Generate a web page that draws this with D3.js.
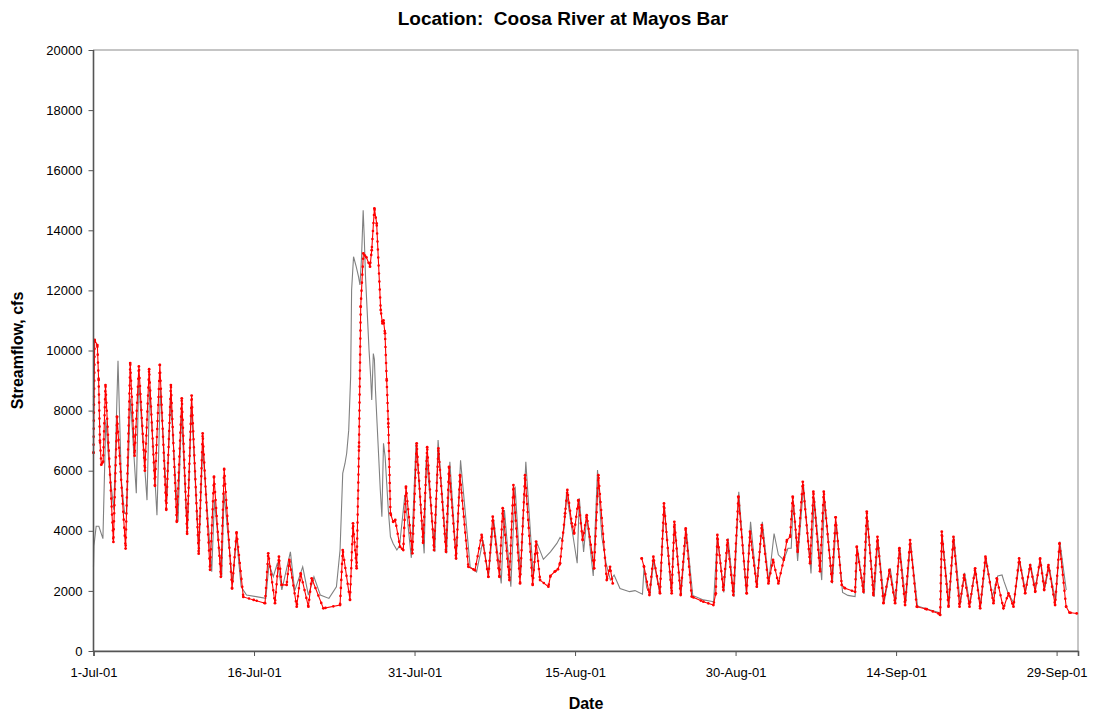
<!DOCTYPE html>
<html>
<head>
<meta charset="utf-8">
<script src="https://cdn.jsdelivr.net/npm/d3@7"></script>
<style>
  body { margin: 0; background: #fff; }
  text { font-family: Arial, "Liberation Sans", sans-serif; }
</style>
</head>
<body>
<script>
// days since 1-Jul-01, streamflow in cfs
const observed = [
  [0, 2800], [0.04, 3500], [0.25, 4150], [0.5, 4150], [0.88, 3740], [1.15, 7700], [1.5, 6000], [1.9, 4700],
  [2.29, 9660], [2.6, 5700], [2.9, 4580], [3.1, 4600], [3.45, 8400], [4.0, 5250], [4.22, 9020], [5.0, 5020],
  [5.25, 8800], [5.93, 4520], [6.25, 8700], [6.85, 5020], [7.2, 8450], [7.9, 4300], [8.22, 7950], [8.77, 3910],
  [9.15, 8240], [9.85, 3250], [10.2, 6800], [11.05, 2640], [11.3, 5020], [11.98, 2470], [12.2, 5250], [13.0, 2250],
  [13.35, 3800], [13.8, 2140], [14.3, 1860], [15.2, 1810], [16.1, 1750], [16.4, 2900], [16.8, 2470], [17.2, 2940],
  [17.6, 2030], [18.4, 3300], [18.8, 2000], [19.55, 2800], [20.08, 1860], [20.6, 2470], [21.2, 1860], [22.0, 1750],
  [22.7, 2140], [23.04, 3360], [23.29, 5910], [23.5, 6240], [23.66, 6580], [23.85, 7350], [24.03, 9130], [24.12, 12010],
  [24.3, 13120], [24.55, 12790], [24.77, 12450], [24.9, 12180], [25.05, 13120], [25.2, 14670], [25.3, 13780], [25.42, 12450],
  [25.6, 11120], [25.75, 10010], [25.9, 9130], [26.0, 8350], [26.15, 9900], [26.25, 9700], [26.35, 8680], [26.5, 7570],
  [26.65, 6470], [26.8, 5360], [26.95, 4470], [27.1, 6910], [27.25, 6470], [27.4, 5580], [27.55, 4690], [27.75, 3800],
  [28.0, 3580], [28.35, 3360], [28.6, 3500], [29.1, 5200], [29.7, 3100], [30.14, 6910], [30.9, 3250], [31.1, 6500],
  [31.9, 3300], [32.2, 7020], [33.0, 3250], [33.3, 6300], [33.9, 3030], [34.3, 6350], [35.2, 2800], [35.8, 2630],
  [36.4, 3690], [36.9, 2470], [37.4, 4360], [38.1, 2250], [38.4, 4690], [39.0, 2140], [39.4, 5470], [39.9, 2470],
  [40.4, 6300], [41.1, 2470], [41.4, 3640], [42.04, 3050], [42.7, 3300], [43.3, 3580], [43.6, 3780], [43.8, 3700],
  [44.0, 4140], [44.2, 5250], [45.2, 2920], [45.4, 5080], [45.8, 3300], [46.1, 4470], [46.7, 2500], [47.1, 6020],
  [47.5, 3800], [47.9, 2920], [48.3, 2360], [48.65, 2530], [49.2, 2080], [50.1, 1975], [50.6, 2010], [51.3, 1890],
  [51.45, 2800], [51.7, 2100], [52.0, 1900], [52.35, 3000], [52.9, 1950], [53.35, 4800], [54.0, 1950], [54.3, 4250],
  [54.9, 1900], [55.4, 4000], [56.0, 1850], [57.0, 1700], [57.95, 1640], [58.3, 3800], [58.9, 1950], [59.3, 3750],
  [59.85, 1800], [60.3, 5300], [61.0, 1950], [61.4, 4300], [62.0, 2100], [62.5, 4300], [63.1, 2300], [63.6, 3910],
  [64.0, 3200], [64.5, 3030], [64.9, 3420], [65.2, 3420], [65.4, 5000], [65.8, 3000], [66.35, 5500], [67.05, 2580],
  [67.35, 5100], [68.05, 2360], [68.3, 5100], [69.05, 2250], [69.4, 4300], [70.0, 1950], [70.5, 1850], [71.17, 1810],
  [71.4, 3400], [72.0, 1900], [72.3, 4500], [72.95, 1800], [73.3, 3700], [73.9, 1650], [74.45, 2750], [74.95, 1600],
  [75.35, 3450], [75.9, 1600], [76.35, 3600], [77.0, 1500], [77.9, 1400], [79.0, 1280], [79.15, 1250], [79.3, 3900],
  [79.95, 1550], [80.4, 3800], [81.0, 1550], [81.4, 2600], [81.9, 1550], [82.4, 2750], [82.9, 1500], [83.4, 3100],
  [84.0, 1800], [84.5, 2500], [84.9, 2530], [85.1, 2300], [85.5, 1900], [86.0, 1600], [86.55, 3000], [87.1, 2000],
  [87.55, 2900], [88.0, 2100], [88.5, 3000], [88.9, 2100], [89.3, 2800], [89.9, 1650], [90.3, 3640], [90.9, 2030]
]

// null marks the gap in the simulated record
const simulated = [
  [0, 6600], [0.11, 10350], [0.36, 10180], [0.48, 9020], [0.6, 7000], [0.73, 6200], [0.9, 6300], [1.12, 8850],
  [1.86, 3630], [2.2, 7800], [3.0, 3410], [3.43, 9580], [3.84, 6500], [4.24, 9470], [4.8, 6000], [5.2, 9380],
  [5.74, 5500], [6.2, 9520], [6.8, 4700], [7.23, 8850], [7.78, 4300], [8.25, 8410], [8.75, 3900], [9.17, 8500],
  [9.83, 3240], [10.2, 7240], [10.89, 2700], [11.26, 5800], [11.9, 2470], [12.21, 6060], [12.95, 2080], [13.37, 3950],
  [14.0, 1800], [14.97, 1700], [16.03, 1590], [16.33, 3250], [16.96, 1590], [17.33, 3140], [17.59, 2200], [18.05, 2200],
  [18.3, 3030], [18.99, 1475], [19.36, 2580], [20.08, 1475], [20.39, 2420], [21.48, 1420], [23.04, 1530], [23.29, 3360],
  [23.97, 1700], [24.25, 4250], [24.59, 2750], [24.81, 6800], [24.97, 11460], [25.22, 13230], [25.5, 13100], [25.84, 12790],
  [26.0, 13340], [26.25, 14730], [26.46, 14230], [26.84, 11350], [27.0, 10900], [27.1, 11000], [27.24, 10570], [27.4, 9000],
  [27.55, 7570], [27.75, 4580], [28.0, 4300], [28.2, 4360], [28.64, 3470], [28.95, 3360], [29.2, 5470], [29.8, 3250],
  [30.2, 6910], [30.8, 3600], [31.18, 6780], [31.82, 3360], [32.23, 6740], [32.94, 3300], [33.22, 6130], [33.88, 3080],
  [34.25, 5850], [35.03, 2800], [35.65, 2690], [36.27, 3860], [36.9, 2470], [37.31, 4470], [37.93, 2470], [38.24, 4750],
  [38.86, 2360], [39.24, 5520], [39.86, 2250], [40.33, 5850], [41.04, 2200], [41.36, 3640], [41.73, 2360], [42.51, 2140],
  [42.7, 2500], [43.1, 2640], [43.4, 2720], [43.6, 2920], [44.07, 4580], [44.28, 5360], [44.69, 4250], [44.91, 3910],
  [45.31, 5020], [45.71, 3690], [46.09, 4520], [46.78, 2750], [47.18, 5850], [47.96, 2360], [48.27, 2800], [48.52, 2250],
  [48.6, null],
  [51.23, 3080], [51.45, 2800], [51.95, 1860], [52.32, 3140], [52.94, 1920], [53.31, 4910], [54.03, 1920], [54.28, 4300],
  [54.87, 1860], [55.34, 4080], [55.9, 1810], [56.99, 1640], [57.93, 1530], [58.15, 1920], [58.3, 3860], [58.86, 2030],
  [59.24, 3690], [59.79, 1860], [60.26, 5140], [61.04, 1920], [61.35, 3970], [61.98, 2140], [62.45, 4190], [63.07, 2250],
  [63.5, 3030], [64.0, 2250], [64.5, 3030], [64.8, 3690], [65.1, 3800], [65.34, 5140], [65.8, 3300], [66.28, 5630],
  [66.96, 2920], [67.27, 5300], [67.89, 2650], [68.24, 5300], [69.0, 2310], [69.35, 4450], [69.92, 2200], [70.23, 2085],
  [71.17, 1970], [71.33, 3470], [71.95, 1970], [72.26, 4640], [72.88, 1860], [73.26, 3800], [73.82, 1590], [74.38, 2700],
  [74.91, 1590], [75.31, 3420], [75.84, 1530], [76.31, 3690], [76.93, 1475], [77.87, 1390], [78.96, 1250], [79.12, 1200],
  [79.27, 3970], [79.9, 1475], [80.36, 3800], [80.93, 1475], [81.36, 2530], [81.86, 1475], [82.39, 2750], [82.86, 1420],
  [83.35, 3140], [84.1, 1590], [84.41, 2420], [85.03, 1420], [85.5, 1920], [85.97, 1475], [86.5, 3080], [87.06, 1920],
  [87.53, 2860], [88.0, 1970], [88.46, 3080], [88.84, 2030], [89.24, 2860], [89.86, 1530], [90.27, 3580], [90.89, 1475],
  [91.2, 1280], [91.88, 1250]
]

const flowTicks = [0, 2000, 4000, 6000, 8000, 10000, 12000, 14000, 16000, 18000, 20000]
const dateTicks = [0, 15, 30, 45, 60, 75, 90]

const width = 1096
const height = 717
const margin = { top: 50, right: 18, bottom: 66, left: 93.5 }

const start = new Date(2001, 6, 1)
const toDate = d => new Date(start.getTime() + d * 864e5)

const svg = d3.select('body')
  .append('svg')
  .attr('width', width)
  .attr('height', height)

const x = d3.scaleTime()
  .domain([start, toDate(92)])
  .range([margin.left, width - margin.right])

const y = d3.scaleLinear()
  .domain([0, 20000])
  .range([height - margin.bottom, margin.top])

// plot frame (top and right in light gray)
svg.append('rect')
  .attr('x', margin.left)
  .attr('y', margin.top)
  .attr('width', width - margin.right - margin.left)
  .attr('height', height - margin.bottom - margin.top)
  .attr('fill', 'none')
  .attr('stroke', '#8c8c8c')
  .attr('stroke-width', 1)

const line = d3.line()
  .defined(d => d[1] != null)
  .x(d => x(toDate(d[0])))
  .y(d => y(d[1]))

svg.append('path')
  .attr('d', line(observed))
  .attr('fill', 'none')
  .attr('stroke', '#808080')
  .attr('stroke-width', 1.1)

svg.append('path')
  .attr('d', line(simulated))
  .attr('fill', 'none')
  .attr('stroke', '#ff0000')
  .attr('stroke-width', 1.1)

// marker dots along the simulated series
svg.append('path')
  .attr('d', line(simulated))
  .attr('fill', 'none')
  .attr('stroke', '#ff0000')
  .attr('stroke-width', 2.6)
  .attr('stroke-linecap', 'round')
  .attr('stroke-dasharray', '0 8')

svg.selectAll('.sim-dot')
  .data(simulated.filter(d => d[1] != null))
  .enter()
  .append('circle')
  .attr('cx', d => x(toDate(d[0])))
  .attr('cy', d => y(d[1]))
  .attr('r', 1.4)
  .attr('fill', '#ff0000')

const yAxis = svg.append('g')
  .attr('transform', `translate(${margin.left},0)`)
  .call(d3.axisLeft(y).tickValues(flowTicks).tickSize(5).tickPadding(6).tickFormat(d3.format('d')))

const xAxis = svg.append('g')
  .attr('transform', `translate(0,${height - margin.bottom})`)
  .call(d3.axisBottom(x).tickValues(dateTicks.map(toDate)).tickSize(5).tickPadding(12).tickFormat(d3.timeFormat('%-d-%b-%y')))

svg.selectAll('.domain')
  .attr('stroke', '#555')
  .attr('stroke-width', 1.6)
svg.selectAll('.tick line').attr('stroke', '#555')
svg.selectAll('.tick text')
  .attr('fill', '#000')
  .style('font-size', '13px')
yAxis.select('.domain').attr('d', `M0,${y(20000)}V${y(0)}`)

svg.append('text')
  .attr('x', 563)
  .attr('y', 25)
  .attr('text-anchor', 'middle')
  .attr('xml:space', 'preserve')
  .style('font-size', '19px')
  .style('font-weight', 'bold')
  .style('white-space', 'pre')
  .text('Location:  Coosa River at Mayos Bar')

svg.append('text')
  .attr('transform', `translate(23,${(margin.top + height - margin.bottom) / 2}) rotate(-90)`)
  .attr('text-anchor', 'middle')
  .style('font-size', '16px')
  .style('font-weight', 'bold')
  .text('Streamflow, cfs')

svg.append('text')
  .attr('x', 586)
  .attr('y', 709)
  .attr('text-anchor', 'middle')
  .style('font-size', '16px')
  .style('font-weight', 'bold')
  .text('Date')
</script>
</body>
</html>
